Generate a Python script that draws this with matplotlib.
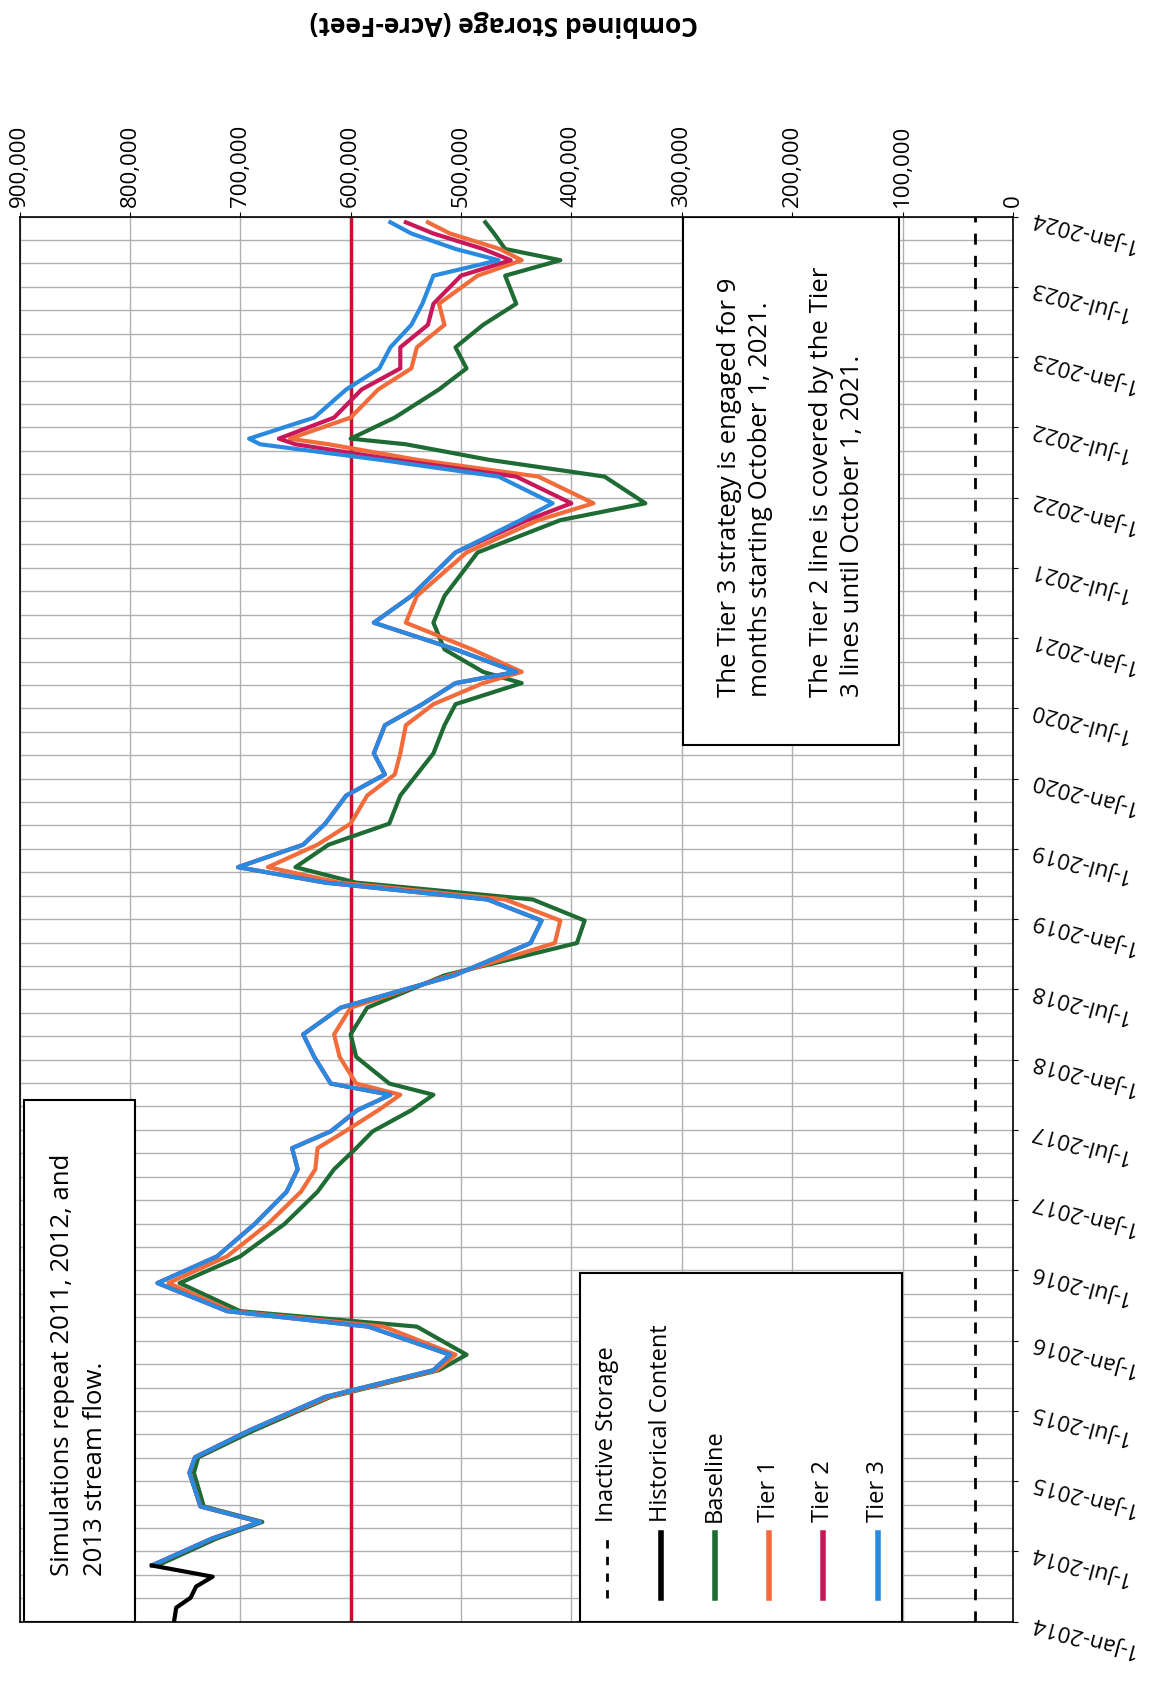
import matplotlib
matplotlib.use("Agg")
import matplotlib.pyplot as plt
from matplotlib.patches import Rectangle

plt.rcParams['font.family'] = ['Open Sans', 'DejaVu Sans']

# years since 1-Jan-2014, storage in thousands of acre-feet
hist_t = [0.0, 0.1, 0.17, 0.25, 0.32, 0.40]
hist_s = [760, 758, 745, 740, 725, 780]

sim_t = [0.40, 0.59, 0.71, 0.82, 1.06, 1.17, 1.36, 1.60, 1.79, 1.90, 2.10, 2.21, 2.41,
         2.60, 2.83, 3.06, 3.22, 3.37, 3.49, 3.64, 3.75, 3.83, 4.02, 4.18, 4.37, 4.60,
         4.83, 4.99, 5.14, 5.26, 5.37, 5.53, 5.68, 5.88, 6.03, 6.18, 6.38, 6.53, 6.68,
         6.76, 6.92, 7.11, 7.30, 7.61, 7.84, 7.96, 8.15, 8.27, 8.38, 8.42, 8.57, 8.77,
         8.92, 9.07, 9.23, 9.38, 9.58, 9.69, 9.77, 9.88, 9.96]
tier3 = [780, 726, 682, 736, 746, 741, 692, 623, 525, 510, 584, 712, 775,
         721, 687, 658, 648, 653, 618, 594, 564, 618, 633, 643, 609, 506,
         437, 427, 476, 623, 702, 643, 623, 604, 569, 579, 569, 535, 505,
         450, 505, 579, 545, 505, 446, 417, 466, 574, 682, 692, 633, 604,
         574, 564, 545, 535, 525, 466, 505, 545, 564]
baseline = [775, 722, 680, 733, 742, 738, 688, 618, 520, 495, 540, 700, 755,
            700, 660, 630, 615, 595, 580, 545, 525, 565, 595, 600, 585, 515,
            395, 388, 435, 595, 650, 620, 565, 555, 540, 525, 515, 505, 445,
            480, 515, 525, 515, 485, 410, 333, 370, 475, 550, 600, 560, 520,
            495, 505, 480, 450, 460, 410, 460, 470, 478]
tier1 = [780, 726, 682, 736, 746, 741, 692, 620, 522, 505, 570, 708, 765,
         712, 675, 645, 632, 630, 605, 575, 555, 595, 610, 615, 600, 510,
         415, 410, 460, 610, 675, 630, 600, 585, 560, 555, 550, 525, 480,
         445, 490, 550, 540, 495, 430, 380, 430, 540, 620, 655, 600, 575,
         545, 540, 515, 520, 485, 445, 465, 510, 530]
# Tier 2 equals Tier 3 until Oct 2021
tier2 = tier3[:44] + [440, 400, 450, 560, 650, 665, 615, 590,
                      555, 555, 530, 525, 500, 455, 480, 525, 550]

storage_ticks = [0, 100, 200, 300, 400, 500, 600, 700, 800, 900]
date_labels = []
for yr in range(2014, 2025):
    date_labels.append('1-Jan-%d' % yr)
    if yr < 2024:
        date_labels.append('1-Jul-%d' % yr)
date_pos = [i * 0.5 for i in range(len(date_labels))]

target = 600
inactive = 34

# layout measured on a 1080x1561 view of the reference
W, H = 1080, 1561
fig = plt.figure(figsize=(11.7, 16.91), dpi=100)
ax = fig.add_axes([18 / W, 1 - 1497 / H, (935 - 18) / W, (1497 - 200) / H])

ax.set_xlim(900, 0)
ax.set_ylim(0, 10)

ax.plot([target, target], [0, 10], color='#c8102e', lw=2.5)
ax.plot([inactive, inactive], [0, 10], color='black', lw=2, ls=(0, (4, 4)))
ax.plot(baseline, sim_t, color='#1e6b34', lw=3)
ax.plot(tier1, sim_t, color='#f26b3a', lw=3)
ax.plot(tier2, sim_t, color='#c8185a', lw=3)
ax.plot(tier3, sim_t, color='#2a8ae0', lw=3)
ax.plot(hist_s, hist_t, color='black', lw=3)

ax.set_xticks(storage_ticks)
ax.set_xticklabels(['0' if v == 0 else '{:,}'.format(v * 1000) for v in storage_ticks],
                   rotation=90, fontsize=16)
ax.xaxis.tick_top()
ax.set_yticks(date_pos)
ax.set_yticklabels(date_labels, rotation=165, fontsize=16, ha='right', va='center',
                   rotation_mode='anchor')
ax.yaxis.tick_right()
ax.tick_params(axis='y', pad=8)
ax.set_yticks([i / 6 for i in range(61)], minor=True)
ax.tick_params(which='minor', length=0)
ax.grid(True, which='both', color='#b0b0b0', lw=1)
ax.set_axisbelow(True)
for sp in ax.spines.values():
    sp.set_linewidth(1.2)

fig.text(465 / W, 1 - 22 / H, 'Combined Storage (Acre-Feet)', rotation=180,
         ha='center', va='center', fontsize=19, fontweight='bold')

def px(x, y):
    return (x - 18) / 917, (1497 - y) / 1297

def box(x0, y0, x1, y1):
    a, b = px(x0, y1)
    c, d = px(x1, y0)
    ax.add_patch(Rectangle((a, b), c - a, d - b, transform=ax.transAxes,
                           facecolor='white', edgecolor='black', lw=1.5, zorder=5))

box(22, 1015, 125, 1497)
ax.text(*px(73, 1260), 'Simulations repeat 2011, 2012, and\n2013 stream flow.',
        transform=ax.transAxes, rotation=90, ha='center', va='center',
        multialignment='left', fontsize=18.5, linespacing=1.4, zorder=6)

box(630, 200, 830, 688)
ax.text(*px(730, 445), 'The Tier 3 strategy is engaged for 9\nmonths starting October 1, 2021.\n\n'
        'The Tier 2 line is covered by the Tier\n3 lines until October 1, 2021.',
        transform=ax.transAxes, rotation=90, ha='center', va='center', multialignment='left',
        fontsize=18.5, linespacing=1.3, zorder=6)

box(535, 1175, 833, 1497)
leg = [('Inactive Storage', 'black', (0, (3, 3)), 2),
       ('Historical Content', 'black', '-', 4),
       ('Baseline', '#1e6b34', '-', 4),
       ('Tier 1', '#f26b3a', '-', 4),
       ('Tier 2', '#c8185a', '-', 4),
       ('Tier 3', '#2a8ae0', '-', 4)]
for i, (lab, col, ls, lw) in enumerate(leg):
    x = 560 + i * 50
    a, b = px(x, 1475)
    c, d = px(x, 1415)
    ax.plot([a, c], [b, d], transform=ax.transAxes, color=col, ls=ls, lw=lw, zorder=7)
    ax.text(*px(x, 1405), lab, transform=ax.transAxes, rotation=90, ha='center',
            va='bottom', fontsize=17, zorder=7)

fig.savefig('out.png', dpi=100)
